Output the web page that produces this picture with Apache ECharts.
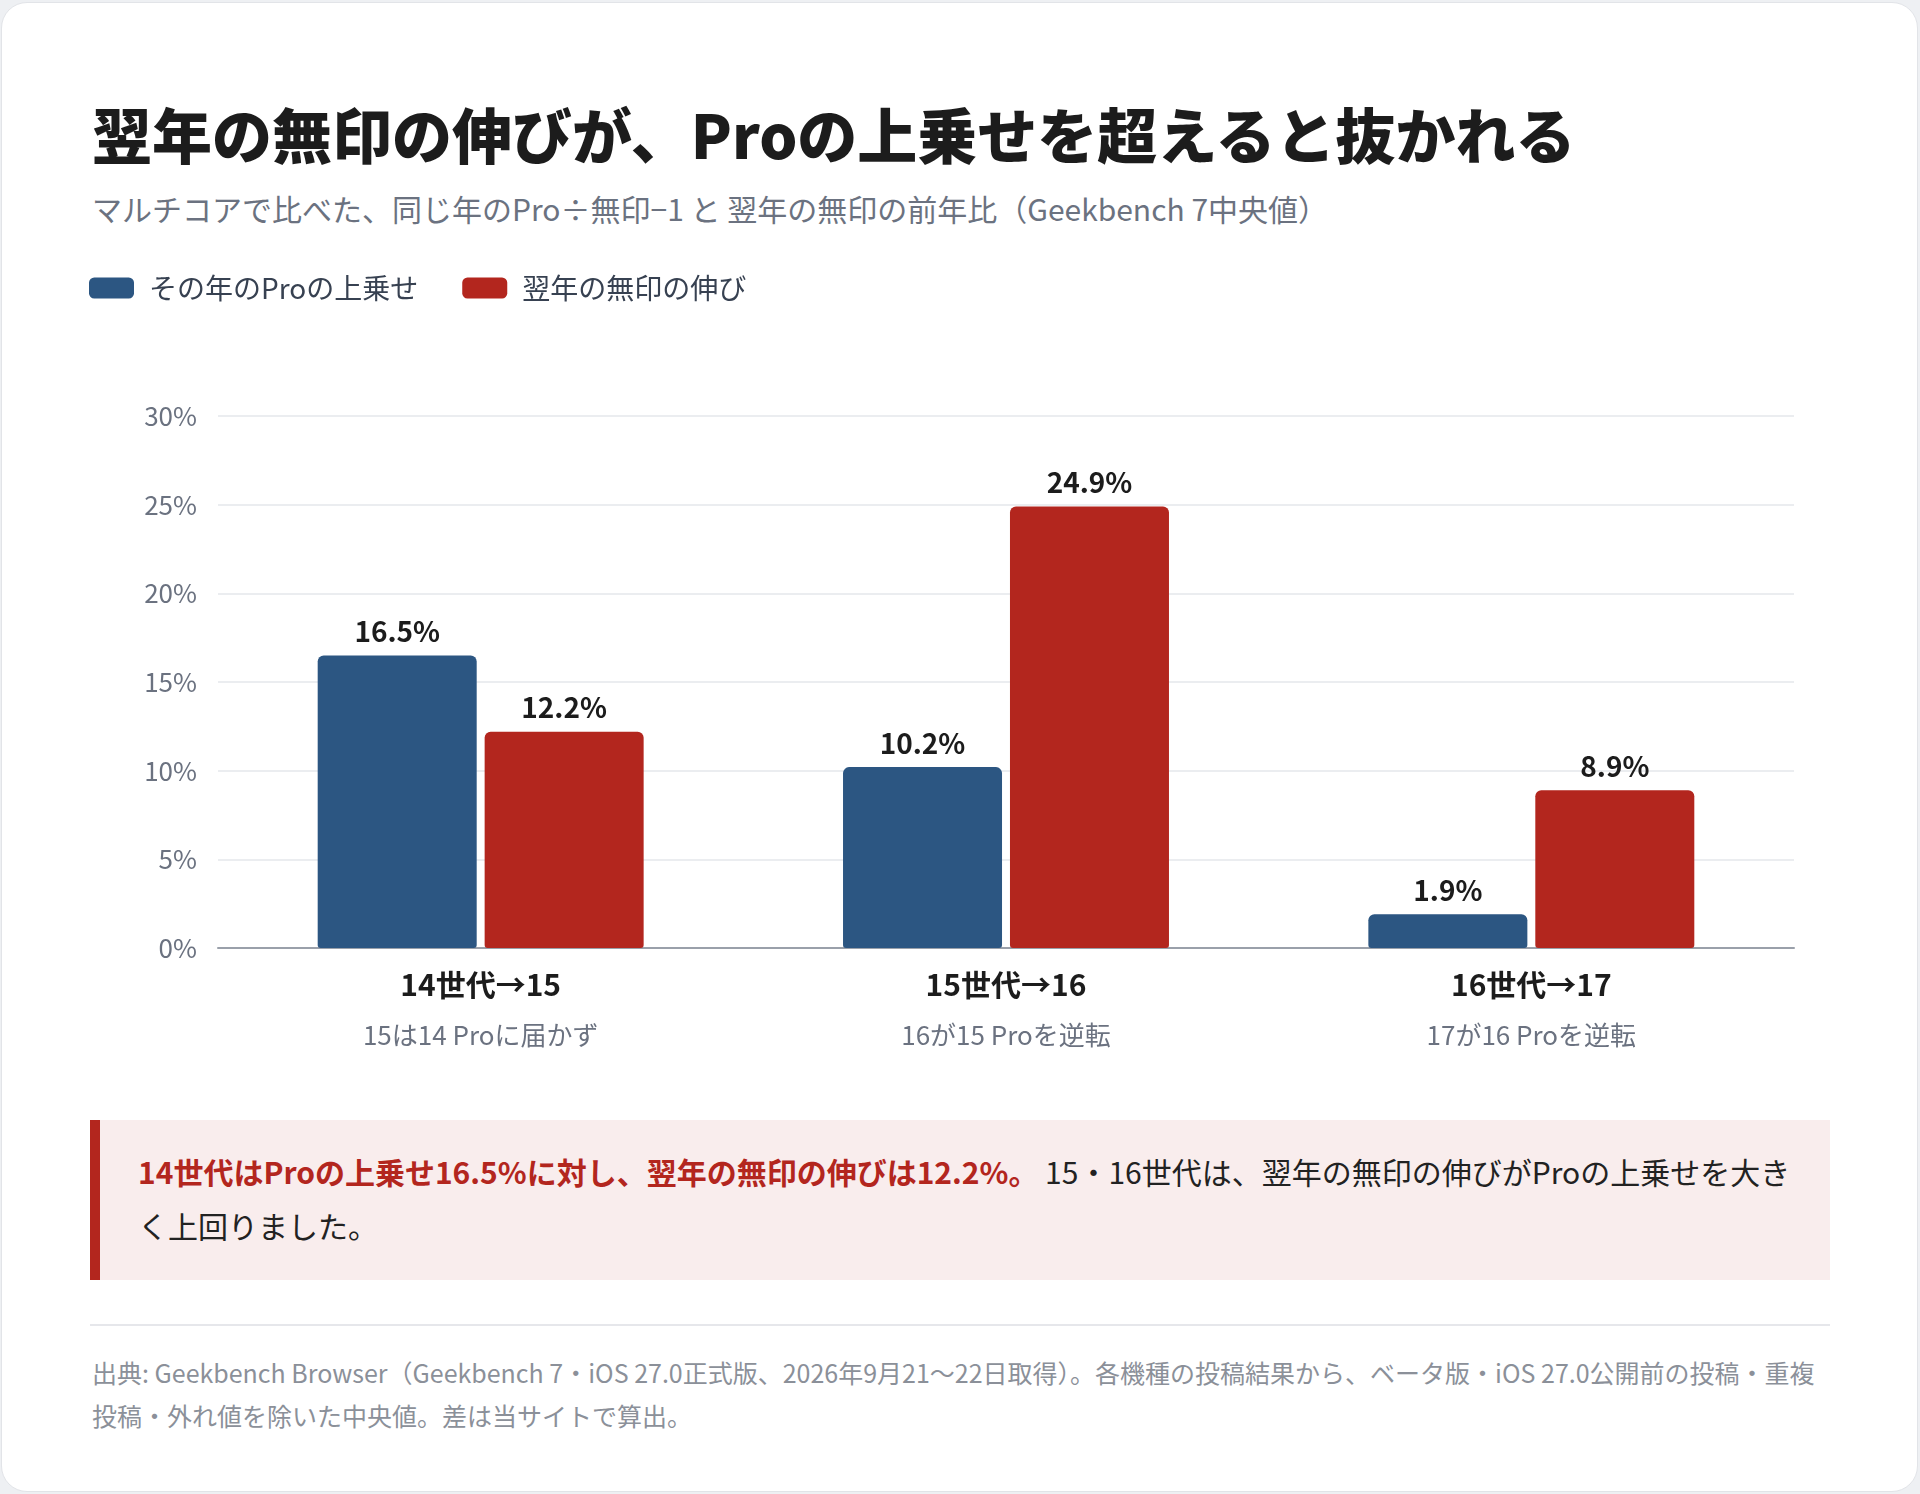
<!DOCTYPE html>
<html lang="ja">
<head>
<meta charset="utf-8">
<title>翌年の無印の伸びが、Proの上乗せを超えると抜かれる</title>
<script src="https://cdn.jsdelivr.net/npm/echarts@6/dist/echarts.min.js"></script>
<style>
  html, body { margin: 0; padding: 0; }
  body {
    width: 1920px; height: 1494px; background: #eef0f3;
    font-family: "Noto Sans CJK JP", "Noto Sans", sans-serif;
    position: relative; overflow: hidden;
  }
  .card {
    position: absolute; left: 1px; top: 2px; width: 1915px; height: 1488px;
    background: #fff; border: 1px solid #e2e4e8; border-radius: 26px;
  }
  .title {
    position: absolute; left: 92px; top: 98px; margin: 0;
    font-size: 60px; line-height: 70px; font-weight: 900; color: #1c1c1c;
    white-space: nowrap;
  }
  .subtitle {
    position: absolute; left: 92px; top: 188px;
    font-size: 30px; line-height: 40px; color: #6b7280; white-space: nowrap;
  }
  #main { position: absolute; left: 0; top: 250px; width: 1920px; height: 850px; }
  .note {
    position: absolute; left: 90px; top: 1120px; width: 1654px; height: 110px;
    background: #f9eded; border-left: 10px solid #b3261e;
    padding: 24px 38px 26px 38px;
    font-size: 30px; line-height: 54px; color: #222;
  }
  .note b { color: #b3261e; font-weight: 700; }
  .rule {
    position: absolute; left: 90px; top: 1324px; width: 1740px; height: 2px; background: #e6e7eb;
  }
  .source {
    position: absolute; left: 92px; top: 1351px; width: 1740px;
    font-size: 25px; line-height: 43px; color: #8b9099;
  }
</style>
</head>
<body>
<div class="card"></div>
<h1 class="title">翌年の無印の伸びが、Proの上乗せを超えると抜かれる</h1>
<div class="subtitle">マルチコアで比べた、同じ年のPro÷無印−1 と 翌年の無印の前年比（Geekbench 7中央値）</div>
<div id="main"></div>
<div class="note"><b>14世代はProの上乗せ16.5%に対し、翌年の無印の伸びは12.2%。</b> 15・16世代は、翌年の無印の伸びがProの上乗せを大きく上回りました。</div>
<div class="rule"></div>
<div class="source">出典: Geekbench Browser（Geekbench 7・iOS 27.0正式版、2026年9月21～22日取得）。各機種の投稿結果から、ベータ版・iOS 27.0公開前の投稿・重複投稿・外れ値を除いた中央値。差は当サイトで算出。</div>
<script>
// 世代ごとの比較
var generations = ['14世代→15', '15世代→16', '16世代→17'];
var notes = ['15は14 Proに届かず', '16が15 Proを逆転', '17が16 Proを逆転'];
var proPremium = [16.5, 10.2, 1.9];   // その年のProの上乗せ
var nextGrowth = [12.2, 24.9, 8.9];   // 翌年の無印の伸び
var seriesNames = ['その年のProの上乗せ', '翌年の無印の伸び'];

var myChart = echarts.init(document.getElementById('main'));

var labelOpt = {
    show: true,
    position: 'top',
    distance: 10,
    fontSize: 28,
    fontWeight: 'bold',
    color: '#1c1c1c',
    formatter: function (p) { return p.value.toFixed(1) + '%'; }
};

myChart.setOption({
    animation: false,
    textStyle: { fontFamily: '"Noto Sans CJK JP", "Noto Sans", sans-serif' },
    legend: {
        left: 84,
        top: 19,
        itemWidth: 45,
        itemHeight: 21,
        itemGap: 44,
        icon: 'roundRect',
        textStyle: { fontSize: 28, color: '#374151', padding: [0, 0, 0, 10] },
        data: seriesNames
    },
    grid: { left: 218, right: 126, top: 166, height: 532 },
    xAxis: {
        type: 'category',
        data: generations,
        axisLine: { lineStyle: { color: '#9aa0aa', width: 2 } },
        axisTick: { show: false },
        axisLabel: {
            margin: 12,
            formatter: function (v, i) {
                return '{a|' + v + '}\n{b|' + notes[i] + '}';
            },
            rich: {
                a: { fontSize: 30, fontWeight: 'bold', color: '#1c1c1c', lineHeight: 50 },
                b: { fontSize: 26, color: '#6b7280', lineHeight: 50 }
            }
        }
    },
    yAxis: {
        type: 'value',
        min: 0,
        max: 30,
        interval: 5,
        axisLine: { show: false },
        axisTick: { show: false },
        axisLabel: { formatter: '{value}%', fontSize: 26, color: '#6b7280', margin: 21 },
        splitLine: { lineStyle: { color: '#e5e7eb', width: 1.5 } }
    },
    series: [{
        name: seriesNames[0],
        type: 'bar',
        barWidth: 159,
        barGap: '5%',
        itemStyle: { color: '#2c5682', borderRadius: [6, 6, 3, 3] },
        label: labelOpt,
        data: proPremium
    }, {
        name: seriesNames[1],
        type: 'bar',
        barWidth: 159,
        barGap: '5%',
        itemStyle: { color: '#b3261e', borderRadius: [6, 6, 3, 3] },
        label: labelOpt,
        data: nextGrowth
    }]
});
</script>
</body>
</html>
